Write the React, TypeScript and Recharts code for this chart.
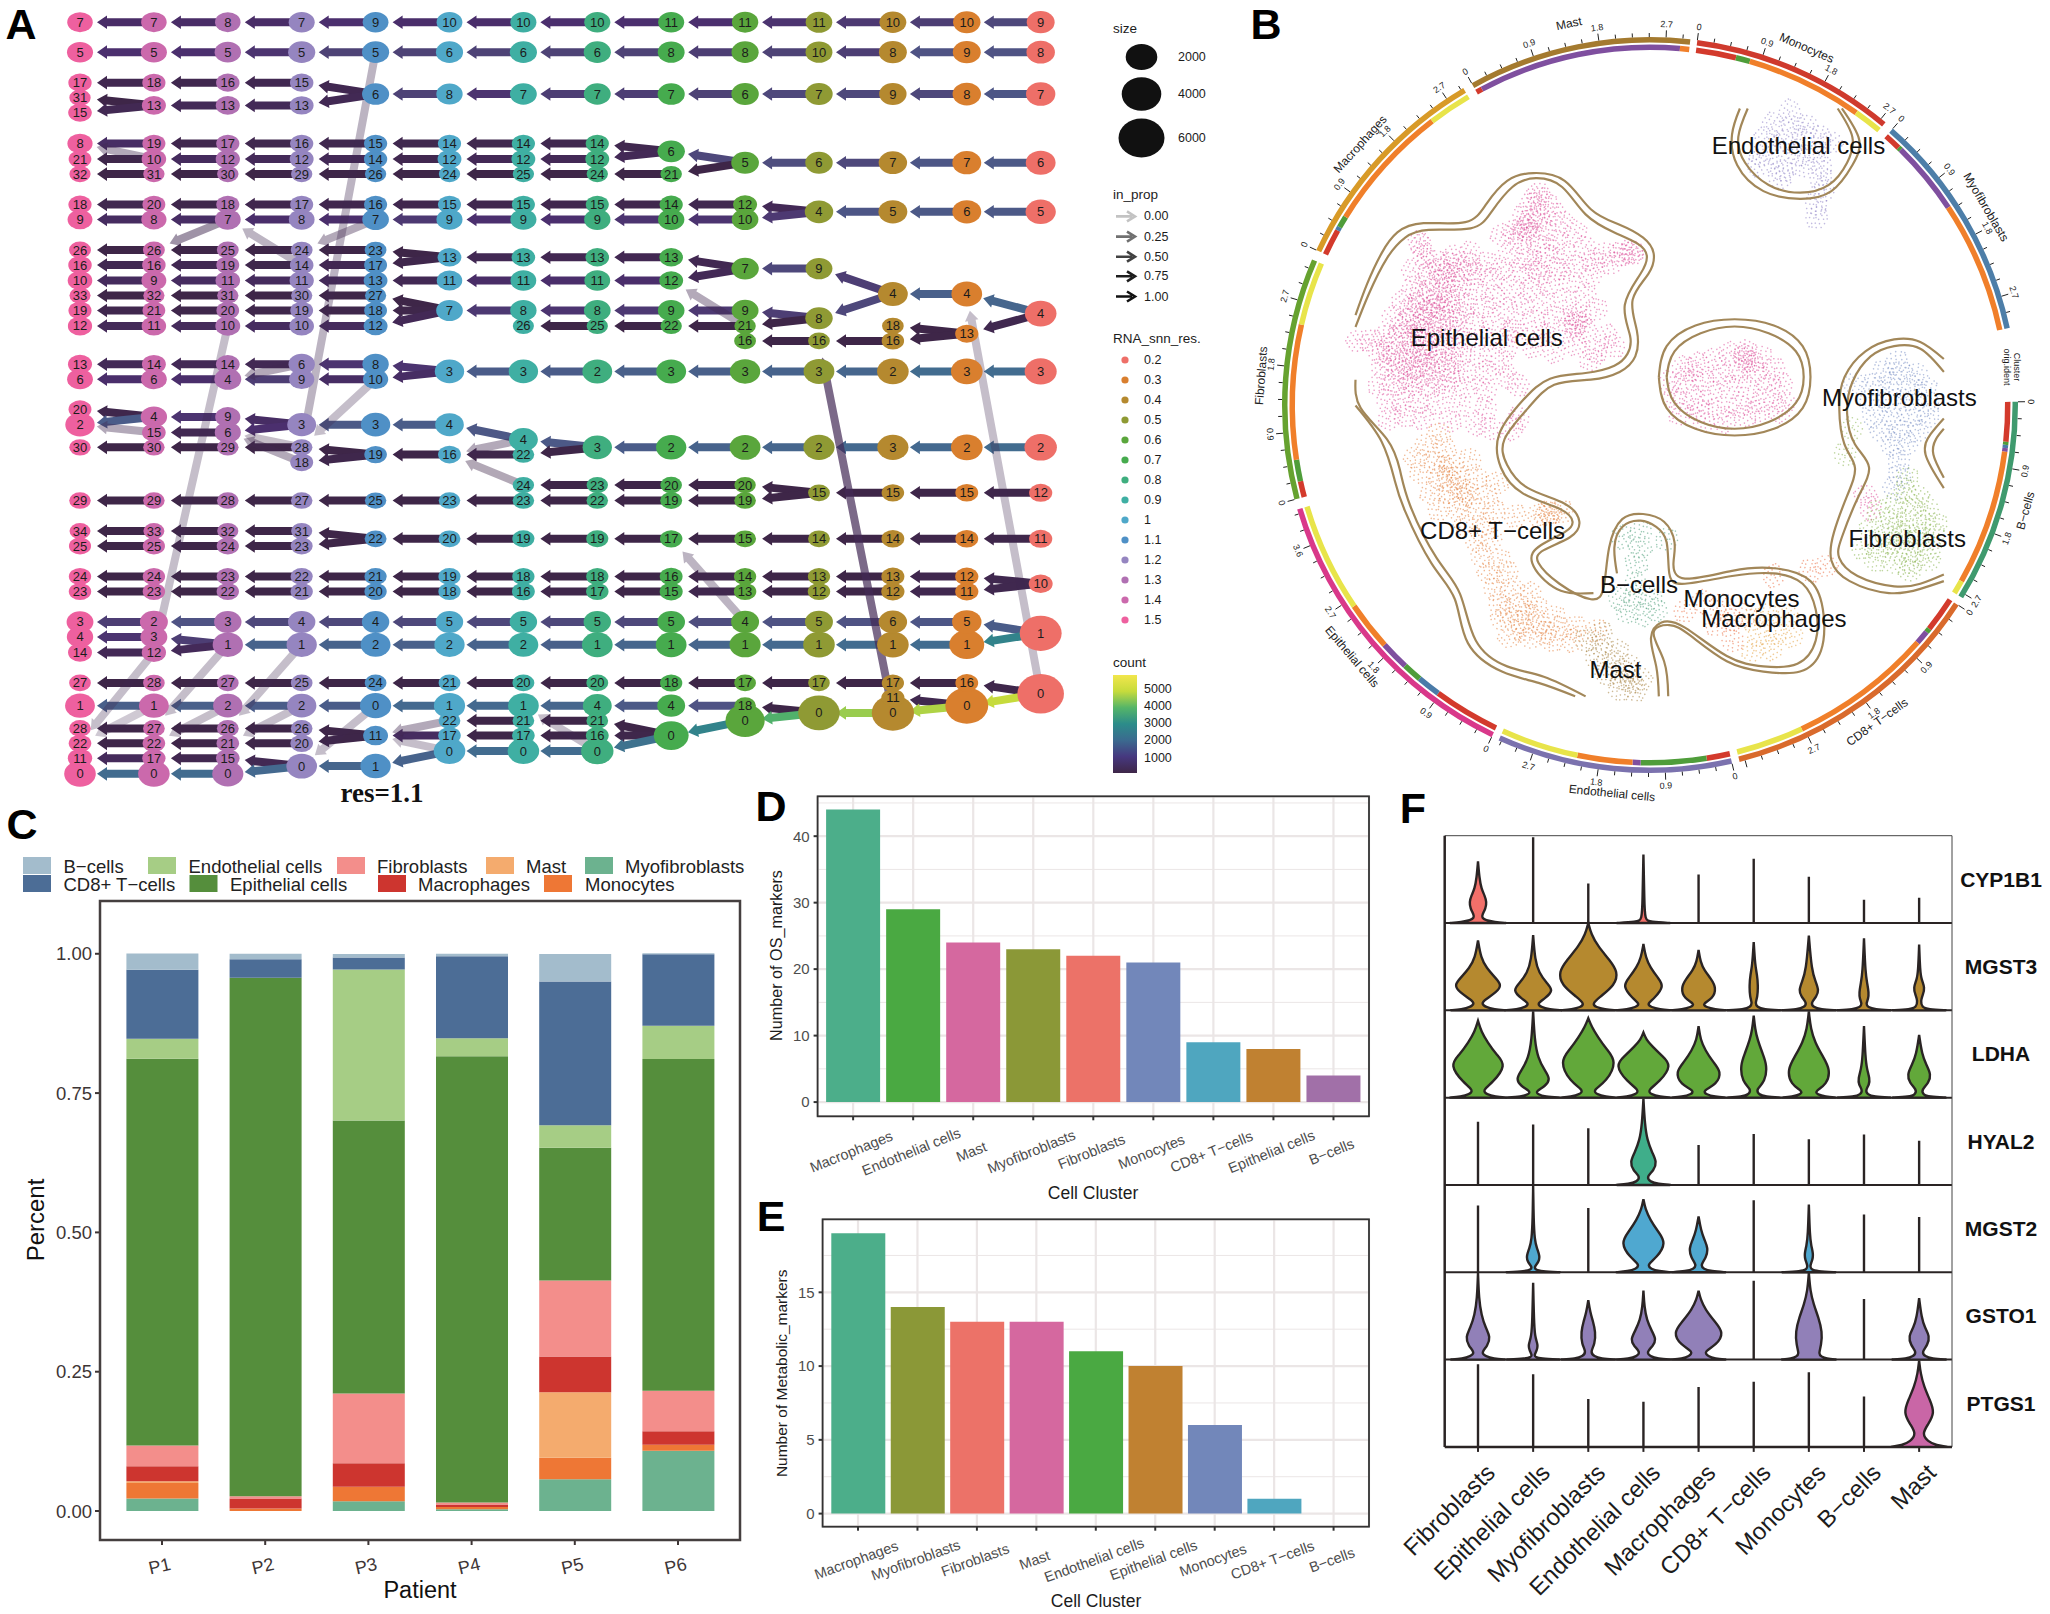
import {
  BarChart,
  Bar,
  Cell,
  CartesianGrid,
  Pie,
  PieChart,
  ReferenceLine,
  Scatter,
  ScatterChart,
  XAxis,
  YAxis,
} from "recharts";

const FONT = '"Liberation Sans", Arial, sans-serif';

// ---------- panel A: clustering tree ----------
const resLabels = ["1.5", "1.4", "1.3", "1.2", "1.1", "1", "0.9", "0.8", "0.7", "0.6", "0.5", "0.4", "0.3", "0.2"];
const resColors = ["#ee609f", "#cb69ac", "#b070b2", "#9585c0", "#4f90c6", "#4fa8c9", "#3fafa3", "#3fae7f", "#46ab4e", "#5aa63c", "#8f9a34", "#b5892f", "#d97f2e", "#ee6f68"];

// [cluster, lane, parent cluster in the next column]
const col0 = [[7,43,7],[5,101,5],[17,160,18],[31,189,13],[15,218,13],[8,278,19],[21,308,10],[32,337,31],[18,396,20],[9,425,8],[26,484,26],[16,513,16],[10,543,9],[33,572,32],[19,601,21],[12,631,11],[13,705,14],[6,734,6],[20,792,4],[2,822,4],[30,866,30],[29,969,29],[34,1028,33],[25,1057,25],[24,1116,24],[23,1145,23],[3,1204,2],[4,1233,3],[14,1263,12],[27,1322,28],[1,1366,1],[28,1410,27],[22,1439,22],[11,1468,17],[0,1498,0]];
const col1 = [[7,43,8],[5,101,5],[18,160,16],[13,204,13],[19,278,17],[10,308,12],[31,337,30],[20,396,18],[8,425,7],[26,484,25],[16,513,19],[9,543,11],[32,572,31],[21,601,20],[11,631,10],[14,705,14],[6,734,4],[4,807,9],[15,837,6],[30,866,29],[29,969,28],[33,1028,32],[25,1057,24],[24,1116,23],[23,1145,22],[2,1204,3],[3,1233,1],[12,1263,1],[28,1322,27],[1,1366,2],[27,1410,26],[22,1439,21],[17,1468,15],[0,1498,0]];
const col2 = [[8,43,7],[5,101,5],[16,160,15],[13,204,13],[17,278,16],[12,308,12],[30,337,29],[18,396,17],[7,425,8],[25,484,24],[19,513,14],[11,543,11],[31,572,30],[20,601,19],[10,631,10],[14,705,6],[4,734,9],[9,807,3],[6,837,3],[29,866,28],[28,969,27],[32,1028,31],[24,1057,23],[23,1116,22],[22,1145,21],[3,1204,4],[1,1248,1],[27,1322,25],[2,1366,2],[26,1410,26],[21,1439,20],[15,1468,0],[0,1498,0]];
const col3 = [[7,43,9],[5,101,5],[15,160,6],[13,204,6],[16,278,15],[12,308,14],[29,337,26],[17,396,16],[8,425,7],[24,484,23],[14,513,17],[11,543,13],[30,572,27],[19,601,18],[10,631,12],[6,705,8],[9,734,10],[3,822,3],[28,866,19],[18,895,19],[27,969,25],[31,1028,22],[23,1057,22],[22,1116,21],[21,1145,20],[4,1204,4],[1,1248,2],[25,1322,24],[2,1366,0],[26,1410,11],[20,1439,11],[0,1483,1]];
const col4 = [[9,43,10],[5,101,6],[6,182,8],[15,278,14],[14,308,12],[26,337,24],[16,396,15],[7,425,9],[23,484,13],[17,513,13],[13,543,11],[27,572,7],[18,601,7],[12,631,7],[8,705,3],[10,734,3],[3,822,4],[19,880,16],[25,969,23],[22,1043,20],[21,1116,19],[20,1145,18],[4,1204,5],[2,1248,2],[24,1322,21],[0,1366,1],[11,1424,17],[1,1483,0]];
const col5 = [[10,43,10],[6,101,6],[8,182,7],[14,278,14],[12,308,12],[24,337,25],[15,396,15],[9,425,9],[13,498,13],[11,543,11],[7,601,8],[3,719,3],[4,822,4],[16,880,22],[23,969,23],[20,1043,19],[19,1116,18],[18,1145,16],[5,1204,5],[2,1248,2],[21,1322,20],[1,1366,1],[22,1395,21],[17,1424,17],[0,1454,0]];
const col6 = [[10,43,10],[6,101,6],[7,182,7],[14,278,14],[12,308,12],[25,337,24],[15,396,15],[9,425,9],[13,498,13],[11,543,11],[8,601,8],[26,631,25],[3,719,2],[4,851,3],[22,880,3],[24,939,23],[23,969,22],[19,1043,19],[18,1116,18],[16,1145,17],[5,1204,5],[2,1248,1],[20,1322,20],[1,1366,4],[21,1395,21],[17,1424,16],[0,1454,0]];
const col7 = [[10,43,11],[6,101,8],[7,182,7],[14,278,6],[12,308,6],[24,337,21],[15,396,14],[9,425,10],[13,498,13],[11,543,12],[8,601,9],[25,631,22],[2,719,3],[3,866,2],[23,939,20],[22,969,19],[19,1043,17],[18,1116,16],[17,1145,15],[5,1204,5],[1,1248,1],[20,1322,18],[4,1366,4],[21,1395,0],[16,1424,0],[0,1454,0]];
const col8 = [[11,43,11],[8,101,8],[7,182,6],[6,293,5],[21,337,5],[14,396,12],[10,425,10],[13,498,7],[12,543,7],[9,601,9],[22,631,21],[3,719,3],[2,866,2],[20,939,20],[19,969,19],[17,1043,15],[16,1116,14],[15,1145,13],[5,1204,4],[1,1248,1],[18,1322,17],[4,1366,18],[0,1424,0]];
const col9 = [[11,43,11],[8,101,10],[6,182,7],[5,315,6],[12,396,4],[10,425,4],[7,520,9],[9,601,8],[21,631,8],[16,660,16],[3,719,3],[2,866,2],[20,939,15],[19,969,15],[15,1043,14],[14,1116,13],[13,1145,12],[4,1204,5],[1,1248,1],[17,1322,17],[18,1366,0],[0,1395,0]];
const col10 = [[11,43,10],[10,101,8],[7,182,9],[6,315,7],[4,410,5],[9,520,4],[8,616,4],[16,660,16],[3,719,2],[2,866,3],[15,954,15],[14,1043,14],[13,1116,13],[12,1145,12],[5,1204,6],[1,1248,1],[17,1322,17],[0,1380,0]];
const col11 = [[10,43,10],[8,101,9],[9,182,8],[7,315,7],[5,410,6],[4,569,4],[18,631,13],[16,660,13],[2,719,3],[3,866,2],[15,954,15],[14,1043,14],[13,1116,12],[12,1145,11],[6,1204,5],[1,1248,1],[17,1322,16],[11,1351,0],[0,1380,0]];
const col12 = [[10,43,9],[9,101,8],[8,182,7],[7,315,6],[6,410,5],[4,569,4],[13,646,4],[3,719,3],[2,866,2],[15,954,12],[14,1043,11],[12,1116,10],[11,1145,10],[5,1204,1],[1,1248,1],[16,1322,0],[0,1366,0]];
const col13 = [[9,43,-1],[8,101,-1],[7,182,-1],[6,315,-1],[5,410,-1],[4,607,-1],[3,719,-1],[2,866,-1],[12,954,-1],[11,1043,-1],[10,1130,-1],[1,1226,-1],[0,1343,-1]];
const treeColumns = [col0, col1, col2, col3, col4, col5, col6, col7, col8, col9, col10, col11, col12, col13];

// cell counts, index = cluster number
const counts0 = [1900,1500,1400,900,800,750,700,650,600,550,500,480,450,420,400,360,340,320,300,280,260,240,220,200,190,170,150,130,120,110,100,90,80,70,60];
const counts1 = [1900,1500,1100,900,800,750,700,650,600,550,500,480,450,420,400,360,340,320,300,280,260,240,220,200,190,170,150,130,120,110,100,90,80,60];
const counts2 = [1800,1600,1400,1000,900,800,750,700,650,600,550,500,450,420,380,360,330,300,280,260,240,220,190,180,170,150,140,130,120,110,100,90,70];
const counts3 = [1700,1600,1400,1300,1000,950,800,750,700,600,500,450,400,380,350,330,300,280,260,240,220,180,170,160,140,130,120,110,100,90,80,70];
const counts4 = [1800,1600,1500,1400,1000,950,950,850,800,700,600,550,400,380,320,300,280,260,250,220,180,170,150,140,130,100,90,80];
const counts5 = [1900,1800,1600,1400,1250,1000,950,850,800,750,700,650,400,380,300,280,250,220,180,170,150,140,130,110,90];
const counts6 = [1900,1700,1500,1400,1300,1000,950,900,800,750,750,700,400,350,300,280,250,220,180,170,150,130,120,110,100,90,70];
const counts7 = [2100,1700,1500,1400,1300,1000,950,900,850,800,750,700,400,350,300,280,250,200,180,170,150,130,110,100,90,80];
const counts8 = [2700,1700,1600,1500,1100,1050,1000,950,900,850,800,750,400,350,300,280,250,200,180,150,120,100,90];
const counts9 = [3900,1800,1700,1600,1100,1050,1000,1000,950,900,850,800,400,200,180,150,140,130,120,120,100,100];
const counts10 = [4600,1900,1800,1700,1200,1100,1000,1000,1000,900,900,850,200,180,150,140,130,120];
const counts11 = [4800,1900,1900,1800,1500,1300,1200,1200,1100,1000,900,300,300,280,250,220,200,180,120];
const counts12 = [5000,2700,1900,1900,1700,1400,1300,1300,1200,1100,1000,300,300,300,250,250,250];
const counts13 = [6200,4700,2100,2000,1900,1600,1500,1400,1200,1100,400,300,300];
const treeCounts = [counts0, counts1, counts2, counts3, counts4, counts5, counts6, counts7, counts8, counts9, counts10, counts11, counts12, counts13];

// faint edges: [child column, child cluster, parent cluster, count, in_prop]
const crossEdges = [
  [12,4,0,300,0.3],[10,16,0,400,0.7],[8,17,4,300,0.35],[8,12,21,300,0.4],[6,1,0,300,0.3],
  [4,11,22,300,0.4],[4,11,0,300,0.3],[3,0,0,300,0.3],[3,28,5,300,0.35],[3,24,7,300,0.4],[3,28,10,300,0.3],
  [2,7,14,300,0.35],[1,26,7,300,0.5],[1,12,10,300,0.3],[2,4,6,300,0.4],[2,6,18,300,0.4],[2,6,28,200,0.3],
  [5,16,4,300,0.4],[5,16,24,200,0.4],[0,2,15,300,0.4],[0,8,10,300,0.4],[0,22,1,300,0.25],[0,22,12,300,0.3],
  [2,26,1,300,0.3],[2,21,2,300,0.3],[1,27,1,300,0.3],[1,22,2,250,0.3],
];

const countStops = [[200,"#3e2648"],[750,"#4b2f6e"],[950,"#4e4376"],[1100,"#4f5384"],[1800,"#44698f"],[3000,"#2c8c8a"],[4000,"#55b568"],[5000,"#c6db3c"],[5600,"#f2e64c"]] as [number,string][];
const hex = (s: string) => [1,3,5].map((i) => parseInt(s.slice(i,i+2),16));
const countColor = (c: number) => {
  for (let i = 1; i < countStops.length; i++) {
    if (c <= countStops[i][0]) {
      const t = Math.max(0,(c-countStops[i-1][0])/(countStops[i][0]-countStops[i-1][0]));
      const a = hex(countStops[i-1][1]), b = hex(countStops[i][1]);
      return `rgb(${a.map((v,k)=>Math.round(v+(b[k]-v)*t)).join(",")})`;
    }
  }
  return countStops[countStops.length-1][1];
};

const nodeRx = (c: number) => 10 + 13*Math.pow(c/6000,0.7);
const nodeRy = (c: number) => 7.5 + 12*Math.pow(c/6000,0.7);

// big nodes first so the small labels stay readable on top of them
const treeNodes = treeColumns.map((col,c) =>
  col.map(([id,lane]) => ({ x:c, y:lane, id, count: treeCounts[c][id] })).sort((a,b) => b.count-a.count)
);
const findNode = (c: number, id: number) => treeNodes[c].find((n) => n.id === id);
const treeEdges: any[] = [];
treeColumns.forEach((col,c) => {
  if (c === 13) return;
  col.forEach(([id,lane,parent]) => {
    const p = findNode(c+1,parent);
    if (p) treeEdges.push({ from:p, to:{x:c,y:lane}, count:treeCounts[c][id], prop:1 });
  });
});
crossEdges.forEach(([c,id,parent,count,prop]) => {
  const p = findNode(c+1,parent), n = findNode(c,id);
  if (p && n) treeEdges.push({ from:p, to:n, count, prop });
});

const EdgeArrow = (p: any) => {
  const { x1, y1, x2, y2, stroke, strokeOpacity } = p;
  const dx = x2-x1, dy = y2-y1, len = Math.hypot(dx,dy) || 1;
  const ux = dx/len, uy = dy/len, nx = -uy, ny = ux;
  const sx = x1+ux*6, sy = y1+uy*6, tx = x2-ux*17, ty = y2-uy*17;
  const bx = tx-ux*10, by = ty-uy*10;
  const pts = [
    [sx+nx*4,sy+ny*4],[bx+nx*4,by+ny*4],[bx+nx*6.8,by+ny*6.8],[tx,ty],
    [bx-nx*6.8,by-ny*6.8],[bx-nx*4,by-ny*4],[sx-nx*4,sy-ny*4],
  ];
  return <polygon points={pts.map((q)=>q.join(",")).join(" ")} fill={stroke} fillOpacity={strokeOpacity} />;
};

const TreeNode = (p: any) => {
  const { cx, cy, fill, payload } = p;
  return (
    <g>
      <ellipse cx={cx} cy={cy} rx={nodeRx(payload.count)} ry={nodeRy(payload.count)} fill={fill} />
      <text x={cx} y={cy+4.5} textAnchor="middle" fontSize={13} fill="#1c1c1c" fontFamily={FONT}>{payload.id}</text>
    </g>
  );
};

const ClusterTree = () => (
  <ScatterChart width={1110} height={810} margin={{top:0,right:0,bottom:0,left:0}}>
    <XAxis type="number" dataKey="x" domain={[-1.0825,13.938]} hide />
    <YAxis type="number" dataKey="y" domain={[0,1568]} reversed hide />
    {treeEdges.map((e,i) => (
      <ReferenceLine
        key={i}
        ifOverflow="visible"
        segment={[{x:e.from.x,y:e.from.y},{x:e.to.x,y:e.to.y}]}
        stroke={countColor(e.count)}
        strokeOpacity={e.prop}
        shape={EdgeArrow}
      />
    ))}
    {treeNodes.map((nodes,c) => (
      <Scatter key={c} data={nodes} fill={resColors[c]} shape={TreeNode} isAnimationActive={false} />
    ))}
  </ScatterChart>
);

// ---------- panel B: circular tracks and embedding ----------
const trackNames = ["Monocytes","Myofibroblasts","B−cells","CD8+ T−cells","Endothelial cells","Epithelial cells","Fibroblasts","Macrophages","Mast"];
const trackColors = ["#cf3a2d","#4d7ea8","#3f9a6e","#d96a2c","#7b72ae","#d9388a","#66a22f","#d89a27","#a47a2f"];
const trackStarts = [7.4,41.3,89.5,123,167.1,205.5,255.1,294.9,331];
const trackSpans = [32.4,36.6,32.2,42.9,37.2,48,38.2,34.6,35.3];
const trackGaps = [1.5,11.6,1.3,1.2,1.2,1.6,1.6,1.5,1.1];
const trackLabelAngles = [23.7,59.5,105.7,144.4,185.6,229.8,274.3,312,348];
const trackMaxTick = [2.7,2.7,2.7,2.7,2.7,3.6,2.7,2.7,2.7];
const DEG_PER_UNIT = 11.67;

const originColors: Record<string,string> = { r:"#d33a2c", g:"#4f9d3a", b:"#4a7ba8", p:"#7f4f9f", o:"#f07f2a", y:"#e8e44a" };
const originMono = [["r",6.5],["g",2.3],["o",19],["y",4.6]];
const originMyo = [["r",2.7],["g",0.5],["p",12],["o",21.4]];
const originB = [["r",6.4],["g",0.5],["b",0.5],["p",0.6],["o",22],["y",2.2]];
const originCd8 = [["r",5.7],["g",0.7],["p",2.2],["o",23.3],["y",11]];
const originEndo = [["r",3.8],["g",10.6],["p",1.3],["o",8.9],["y",12.6]];
const originEpi = [["r",10.8],["b",3.8],["g",3.1],["p",4.7],["o",7.9],["y",17.7]];
const originFibro = [["r",2.6],["g",3.5],["o",21.8],["y",10.3]];
const originMacro = [["r",4.3],["b",0.6],["g",1.9],["o",20.8],["y",7]];
const originMast = [["r",1],["p",32.8],["o",1.5]];
const originTracks = [originMono,originMyo,originB,originCd8,originEndo,originEpi,originFibro,originMacro,originMast];

const outerRing: any[] = [];
const innerRing: any[] = [];
trackNames.forEach((name,i) => {
  outerRing.push({ name, value:trackSpans[i], fill:trackColors[i] });
  outerRing.push({ name:"gap", value:trackGaps[i], fill:"none" });
  (originTracks[i] as [string,number][]).forEach(([k,v]) => innerRing.push({ name:k, value:v, fill:originColors[k] }));
  innerRing.push({ name:"gap", value:trackGaps[i], fill:"none" });
});

const CircularTracks = () => (
  <PieChart width={820} height={810} margin={{top:0,right:0,bottom:0,left:0}}>
    <Pie data={outerRing} dataKey="value" cx={420} cy={405} innerRadius={362.5} outerRadius={368} startAngle={82.6} endAngle={-277.4} stroke="none" isAnimationActive={false}>
      {outerRing.map((d,i) => <Cell key={i} fill={d.fill} />)}
    </Pie>
    <Pie data={innerRing} dataKey="value" cx={420} cy={405} innerRadius={355} outerRadius={360.5} startAngle={82.6} endAngle={-277.4} stroke="none" isAnimationActive={false}>
      {innerRing.map((d,i) => <Cell key={i} fill={d.fill} />)}
    </Pie>
  </PieChart>
);

const epithelialPts = [[590,375],[575,395],[605,395],[560,420],[590,420],[620,415],[545,445],[575,450],[565,445],[605,445],[635,430],[520,455],[555,470],[590,475],[625,465],[660,450],[535,490],[570,500],[605,495],[640,490],[680,480],[715,490],[745,492],[770,490],[765,485],[520,520],[555,525],[590,530],[625,520],[660,515],[695,505],[730,510],[540,555],[575,560],[610,550],[650,545],[690,535],[560,590],[600,585],[640,580],[680,570],[580,620],[620,615],[660,610],[700,600],[600,650],[640,640],[680,640],[720,650],[735,670],[700,680],[660,625],[660,665],[620,680],[580,670],[690,695],[545,640],[362,470],[370,495],[395,505],[430,495],[460,490],[490,510],[350,525],[380,530],[410,530],[440,525],[420,510],[470,530],[500,540],[350,555],[380,560],[410,560],[440,555],[470,560],[505,575],[330,585],[360,590],[390,590],[420,585],[400,575],[450,590],[485,595],[530,600],[310,615],[340,620],[370,620],[400,618],[430,620],[385,605],[465,625],[505,625],[540,640],[245,660],[270,660],[295,650],[325,650],[355,650],[385,650],[415,650],[370,640],[450,655],[490,655],[530,670],[285,680],[315,685],[345,682],[375,682],[405,682],[360,690],[440,685],[480,690],[520,700],[290,710],[320,715],[350,712],[380,712],[410,715],[450,720],[490,720],[530,730],[550,745],[285,745],[315,745],[345,745],[375,745],[410,750],[450,750],[490,755],[300,775],[330,775],[360,778],[395,780],[440,785],[490,790],[305,810],[335,805],[370,810],[420,815],[470,820],[500,830],[552,810],[540,830],[865,712],[895,705],[925,695],[955,685],[985,680],[1015,690],[1040,715],[1055,745],[840,740],[870,740],[905,735],[940,725],[975,715],[985,695],[1005,720],[1030,745],[1060,780],[850,770],[885,770],[920,760],[955,750],[990,750],[1020,775],[860,800],[895,795],[935,790],[975,785],[1010,795],[1050,795],[905,815],[945,815],[985,805],[1215,960],[1225,985]];
// second layer where the pink cloud is densest
const epithelialDense = [[365,475],[565,440],[575,425],[590,385],[768,488],[400,520],[430,540],[455,510],[395,545],[425,570],[365,575],[345,600],[375,600],[405,600],[440,605],[330,630],[360,635],[390,635],[420,635],[310,665],[340,665],[370,665],[400,665],[430,670],[305,695],[335,700],[365,700],[395,700],[425,700],[330,730],[360,730],[390,730],[420,735],[660,630],[670,615],[585,520],[1000,700],[985,690],[880,715]];
const cd8Pts = [[400,840],[375,860],[410,870],[355,885],[390,895],[425,900],[460,890],[365,915],[400,925],[435,925],[470,925],[510,935],[385,955],[420,955],[455,955],[440,945],[490,960],[400,985],[435,985],[470,985],[505,990],[545,998],[590,998],[615,995],[610,992],[635,990],[450,1015],[485,1015],[470,1045],[500,1045],[480,1075],[515,1085],[495,1110],[530,1110],[505,1140],[540,1140],[575,1150],[515,1170],[550,1170],[585,1175],[620,1195],[520,1200],[555,1205],[590,1205],[630,1215],[535,1232],[575,1235],[615,1240],[655,1240],[660,1215],[700,1220],[420,930],[445,965],[410,905],[530,1185],[570,1190],[560,1220],[605,1225],[605,998]];
const mastPts = [[680,1240],[710,1250],[740,1260],[700,1275],[735,1285],[765,1290],[720,1305],[750,1315],[785,1315],[745,1335],[775,1335],[710,1225],[750,1300],[770,1320]];
const endothelialPts = [[1070,215],[1040,240],[1075,245],[1105,245],[1025,265],[1060,272],[1095,270],[1130,265],[1015,300],[1050,300],[1085,300],[1120,295],[1150,275],[1010,320],[1055,330],[1095,320],[1130,320],[1050,345],[1130,345],[1135,370],[1120,395],[1122,420]];
const myoPts = [[1275,700],[1250,720],[1285,720],[1315,725],[1230,745],[1265,745],[1300,745],[1330,750],[1225,775],[1260,775],[1295,775],[1335,780],[1230,805],[1265,805],[1300,805],[1335,805],[1245,835],[1280,835],[1315,835],[1265,860],[1295,860],[1280,890],[1280,920],[1270,945],[1195,742]];
const fibroPts = [[1295,925],[1290,950],[1315,960],[1275,975],[1305,985],[1335,985],[1240,990],[1265,1005],[1295,1010],[1325,1010],[1350,1015],[1225,1025],[1255,1035],[1285,1035],[1315,1035],[1345,1035],[1210,1060],[1240,1060],[1275,1065],[1305,1065],[1340,1060],[1235,1085],[1270,1090],[1305,1090],[1335,1085],[1300,1105],[1190,830],[1175,880],[1280,1020],[1310,1050],[1265,1050]];
const bcellPts = [[750,1040],[785,1030],[785,1060],[835,1045],[778,1090],[775,1130],[745,1160],[775,1155],[805,1160],[760,1185],[790,1190],[815,1180]];
const monoPts = [[870,1182],[905,1165],[940,1170],[930,1210],[960,1200],[960,1240],[985,1190],[1040,1115],[1110,1105],[1140,1095]];
const macroPts = [[1000,1200],[1030,1190],[1065,1190],[1010,1230],[1045,1225],[1075,1230],[1035,1255],[1000,1260]];
const embedClusters = [
  { id:"epi", pts:[...epithelialPts,...epithelialDense], color:"#dd4f99" },
  { id:"cd8", pts:cd8Pts, color:"#e4813f" },
  { id:"mast", pts:mastPts, color:"#a5813f" },
  { id:"endo", pts:endothelialPts, color:"#8f83c6" },
  { id:"myo", pts:myoPts, color:"#7a90c4" },
  { id:"fib", pts:fibroPts, color:"#86b34c" },
  { id:"bc", pts:bcellPts, color:"#4f9f7a" },
  { id:"mono", pts:monoPts, color:"#ea6f45" },
  { id:"mac", pts:macroPts, color:"#e4a244" },
];

const hullOuter = [[240,610],[262,550],[290,490],[320,450],[370,432],[450,430],[490,395],[530,350],[580,335],[640,350],[690,405],[745,435],[790,460],[810,490],[800,530],[770,580],[778,640],[775,690],[745,720],[690,735],[620,745],[570,790],[525,850],[530,900],[570,945],[640,975],[668,1010],[650,1040],[600,1065],[590,1090],[630,1130],[690,1160],[715,1135],[725,1060],[750,1005],[790,995],[830,1010],[850,1050],[848,1090],[870,1120],[960,1105],[1040,1100],[1110,1125],[1135,1190],[1130,1260],[1090,1300],[1020,1300],[950,1280],[880,1230],[840,1210],[810,1225],[830,1280],[838,1348]];
const hullInner = [[240,633],[265,570],[300,500],[335,460],[380,445],[460,442],[500,410],[540,362],[585,345],[635,362],[680,415],[735,450],[780,472],[797,495],[785,530],[755,590],[765,650],[760,685],[735,708],[680,722],[612,733],[560,775],[515,840],[518,905],[560,955],[630,985],[655,1010],[640,1030],[595,1055],[578,1090],[625,1140],[695,1148]];
const hullNotch = [[820,1348],[815,1290],[805,1235],[825,1205],[870,1215],[950,1270],[1020,1290],[1085,1285],[1120,1240],[1120,1180],[1095,1130],[1040,1110],[960,1115],[870,1130],[840,1110],[835,1050],[815,1020],[785,1008],[750,1020],[735,1060],[740,1110]];
const hullLower1 = [[240,735],[250,790],[300,850],[325,910],[345,980],[395,1080],[440,1150],[470,1240],[530,1290],[600,1310],[680,1348]];
const hullLower2 = [[240,785],[290,855],[315,930],[335,990],[385,1090],[430,1160],[455,1245],[520,1300],[590,1322],[660,1348]];
const hullEndo1 = [[975,210],[960,260],[970,320],[1020,370],[1090,385],[1150,370],[1190,320],[1203,270],[1170,210]];
const hullEndo2 = [[990,210],[972,265],[985,315],[1030,358],[1090,373],[1145,358],[1180,315],[1190,265],[1162,210]];
const hullIsland1 = [[820,730],[835,670],[890,630],[965,618],[1040,630],[1095,670],[1110,730],[1095,790],[1040,830],[965,843],[890,830],[835,790],[820,730]];
const hullIsland2 = [[835,730],[850,680],[900,645],[965,632],[1030,645],[1082,680],[1097,730],[1082,780],[1030,817],[965,830],[900,817],[850,780],[835,730]];
const hullMyo1 = [[1365,695],[1320,662],[1270,657],[1215,680],[1175,730],[1165,790],[1175,860],[1195,905],[1180,960],[1155,1030],[1150,1085],[1185,1125],[1260,1148],[1320,1140],[1365,1125]];
const hullMyo2 = [[1365,720],[1320,675],[1270,670],[1225,690],[1190,740],[1180,800],[1195,860],[1222,905],[1200,965],[1170,1040],[1165,1080],[1200,1115],[1270,1135],[1320,1130],[1365,1112]];
const hullRight1 = [[1365,810],[1340,840],[1330,880],[1365,945]];
const hullRight2 = [[1365,830],[1350,850],[1345,880],[1365,925]];
const hulls = [hullOuter,hullInner,hullNotch,hullLower1,hullLower2,hullEndo1,hullEndo2,hullIsland1,hullIsland2,hullMyo1,hullMyo2,hullRight1,hullRight2];

const embedLabels = [
  ["Endothelial cells",1087,282],["Epithelial cells",491,653],["Myofibroblasts",1280,769],["Fibroblasts",1295,1043],
  ["CD8+ T−cells",502,1026],["B−cells",782,1132],["Monocytes",978,1158],["Macrophages",1040,1198],["Mast",737,1296],
] as [string,number,number][];

const toXY = (pts: number[][]) => pts.map(([x,y]) => ({x,y}));
const NoDot = () => <g />;

// symbol for one estimated patch of the cloud: a loose spray of tiny dots
const sprayOffsets = [[-9,-6],[-5,-9],[1,-10],[6,-8],[10,-4],[-11,-1],[-6,-4],[-2,-6],[3,-5],[7,-2],[11,1],[-8,2],[-3,-1],[1,-2],[5,2],[9,5],[-10,5],[-5,4],[0,3],[4,6],[-7,8],[-2,7],[2,10],[7,8],[-3,11],[-1,0],[12,-1],[-12,3]];
const SPRAY_PATH = sprayOffsets.map(([x,y]) => `M${x-0.8} ${y}a.8 .8 0 1 0 1.6 0a.8 .8 0 1 0 -1.6 0`).join("");
const sprayDot = (color: string) => (p: any) => (
  <path d={SPRAY_PATH} fill={color} fillOpacity={0.55}
    transform={`translate(${p.cx} ${p.cy}) rotate(${(Math.round(p.cx)*37+Math.round(p.cy)*59)%360})`} />
);

const Embedding = () => (
  <ScatterChart width={820} height={810} margin={{top:0,right:0,bottom:0,left:0}}>
    <XAxis type="number" dataKey="x" domain={[0,1568]} hide />
    <YAxis type="number" dataKey="y" domain={[0,1568]} reversed hide />
    {embedClusters.map((c) => (
      <Scatter key={c.id} data={toXY(c.pts)} shape={sprayDot(c.color)} isAnimationActive={false} />
    ))}
    {hulls.map((h,i) => (
      <Scatter key={i} data={toXY(h)} shape={NoDot} line={{stroke:"#a28759",strokeWidth:2.2}} lineType="joint" lineJointType="natural" isAnimationActive={false} />
    ))}
  </ScatterChart>
);

// ---------- panel C: stacked composition ----------
const patients = ["P1","P2","P3","P4","P5","P6"];
const pctMyo = [0.0224,0,0.0177,0.003,0.0568,0.108];
const pctMono = [0.028,0.0045,0.026,0.004,0.039,0.011];
const pctMast = [0.003,0,0,0,0.1174,0];
const pctMacro = [0.027,0.018,0.042,0.0045,0.0643,0.024];
const pctFibro = [0.037,0.004,0.125,0.004,0.136,0.073];
const pctEpi = [0.694,0.9305,0.49,0.8005,0.2386,0.595];
const pctEndo = [0.036,0,0.271,0.0325,0.04,0.06];
const pctCd8 = [0.124,0.033,0.0215,0.147,0.258,0.128];
const pctB = [0.029,0.01,0.0065,0.0047,0.0494,0.002];
const stackKeys = ["myo","mono","mast","macro","fibro","epi","endo","cd8","b"];
const stackColors = ["#6cb28f","#ee7735","#f4ab6e","#cd352f","#f38e8b","#558e3c","#a6cd85","#4c6d96","#a3bccc"];
const stackRows = patients.map((p,i) => ({
  patient:p, myo:pctMyo[i], mono:pctMono[i], mast:pctMast[i], macro:pctMacro[i], fibro:pctFibro[i],
  epi:pctEpi[i], endo:pctEndo[i], cd8:pctCd8[i], b:pctB[i],
}));

const legendRow1 = [["B−cells","#a3bccc",23,63.5],["Endothelial cells","#a6cd85",148,188.5],["Fibroblasts","#f38e8b",337,377],["Mast","#f4ab6e",486,526],["Myofibroblasts","#6cb28f",585,625]] as [string,string,number,number][];
const legendRow2 = [["CD8+ T−cells","#4c6d96",23,63.5],["Epithelial cells","#558e3c",189.5,230],["Macrophages","#cd352f",378,418],["Monocytes","#ee7735",544,585]] as [string,string,number,number][];

const CompositionChart = () => (
  <BarChart width={760} height={814} data={stackRows} margin={{top:101,right:20,bottom:0,left:0}}>
    <XAxis dataKey="patient" height={74} padding={{left:10.4,right:10.4}} axisLine={false} tickSize={5} tickLine={{stroke:"#3d3535",strokeWidth:2}} interval={0}
      tick={(p: any) => <text x={p.x-1} y={p.y+25} transform={`rotate(-13 ${p.x-1} ${p.y+25})`} textAnchor="middle" fontSize={18} fill="#3d3535" fontFamily={FONT}>{p.payload.value}</text>} />
    <YAxis type="number" width={100} domain={[-0.052,1.0947]} ticks={[0,0.25,0.5,0.75,1]} allowDataOverflow axisLine={false} tickSize={5} tickMargin={3} tickLine={{stroke:"#3d3535",strokeWidth:2}} tickFormatter={(v: number) => v.toFixed(2)} tick={{fontSize:18.5,fill:"#3d3535",fontFamily:FONT}} />
    {stackKeys.map((k,i) => <Bar key={k} dataKey={k} stackId="a" fill={stackColors[i]} barSize={72} isAnimationActive={false} />)}
  </BarChart>
);

// ---------- panels D and E ----------
const osNames = ["Macrophages","Endothelial cells","Mast","Myofibroblasts","Fibroblasts","Monocytes","CD8+ T−cells","Epithelial cells","B−cells"];
const osValues = [44,29,24,23,22,21,9,8,4];
const metaNames = ["Macrophages","Myofibroblasts","Fibroblasts","Mast","Endothelial cells","Epithelial cells","Monocytes","CD8+ T−cells","B−cells"];
const metaValues = [19,14,13,13,11,10,6,1,0];
const cellColors: Record<string,string> = {
  Macrophages:"#4cae8a","Endothelial cells":"#4aa942",Mast:"#d5689f",Myofibroblasts:"#8b9837",Fibroblasts:"#ec7268",
  Monocytes:"#7287ba","CD8+ T−cells":"#4fa6bf","Epithelial cells":"#c08131","B−cells":"#a170a8",
};

const RankBars = ({ names, values, left, top, width, height, plotLeft, plotTop, plotRight, plotBottom, domain, ticks, minor, pad, barSize, labelDy, angle }: any) => {
  const rows = names.map((n: string,i: number) => ({ name:n, value:values[i] }));
  return (
    <BarChart style={{position:"absolute",left,top}} width={width} height={height} data={rows}
      margin={{top:plotTop-top,right:left+width-plotRight,bottom:0,left:0}}>
      <CartesianGrid stroke="#ebe6e6" strokeWidth={2.2} />
      <CartesianGrid stroke="#ebe6e6" strokeWidth={1} vertical={false} horizontalValues={minor} />
      <XAxis dataKey="name" height={top+height-plotBottom} padding={{left:pad,right:pad}} interval={0} axisLine={false} tickSize={4} tickLine={{stroke:"#333",strokeWidth:2}}
        tick={(p: any) => <text x={p.x} y={p.y+labelDy} transform={`rotate(${angle} ${p.x} ${p.y+labelDy})`} textAnchor="middle" fontSize={14.5} fill="#4d4d4d" fontFamily={FONT}>{p.payload.value}</text>} />
      <YAxis type="number" width={plotLeft-left} domain={domain} ticks={ticks} allowDataOverflow axisLine={false} tickSize={4} tickMargin={4} tickLine={{stroke:"#333",strokeWidth:2}} tick={{fontSize:15,fill:"#4d4d4d",fontFamily:FONT}} />
      <Bar dataKey="value" barSize={barSize} isAnimationActive={false}>
        {rows.map((r: any) => <Cell key={r.name} fill={cellColors[r.name]} />)}
      </Bar>
    </BarChart>
  );
};

// ---------- panel F: stacked violins ----------
const violinGenes = ["CYP1B1","MGST3","LDHA","HYAL2","MGST2","GSTO1","PTGS1"];
const violinColors = ["#f2706a","#b5892f","#62a83a","#3fae8a","#4fa8d0","#9180b8","#c966a6"];
const violinCells = ["Fibroblasts","Epithelial cells","Myofibroblasts","Endothelial cells","Macrophages","CD8+ T−cells","Monocytes","B−cells","Mast"];

// each profile: [height above row floor, half width]
const cyp1b1 = [
  [[0,60],[2,34],[5,16],[10,8],[16,9],[28,16],[40,18],[52,14],[65,7],[85,3],[117,0]],
  [[0,0],[163,0]],[[0,0],[75,0]],[[0,58],[2,14],[6,3],[40,2],[130,0]],[[0,0],[92,0]],[[0,0],[122,0]],[[0,0],[88,0]],[[0,0],[44,0]],[[0,0],[48,0]],
];
const mgst3 = [
  [[0,58],[2,34],[6,16],[13,7],[20,14],[34,38],[48,50],[62,36],[80,18],[100,6],[133,0]],
  [[0,60],[2,34],[6,16],[13,8],[22,24],[38,43],[52,28],[72,12],[95,4],[143,0]],
  [[0,58],[2,34],[6,16],[12,8],[24,22],[48,56],[73,62],[96,44],[122,20],[145,6],[166,0]],
  [[0,58],[2,34],[6,16],[12,7],[22,22],[46,44],[62,30],[82,14],[100,5],[126,0]],
  [[0,58],[2,34],[6,16],[12,7],[22,30],[43,37],[60,26],[76,12],[92,4],[115,0]],
  [[0,58],[2,20],[6,7],[14,3],[25,8],[48,9],[68,7],[85,3],[130,0]],
  [[0,58],[2,24],[6,9],[14,4],[26,16],[38,21],[55,14],[75,6],[142,0]],
  [[0,58],[2,22],[6,8],[12,4],[22,9],[33,10],[50,7],[70,3],[137,0]],
  [[0,58],[2,18],[6,6],[18,3],[30,8],[43,12],[58,5],[75,2],[125,0]],
];
const ldha = [
  [[0,60],[2,36],[6,18],[14,9],[28,30],[62,60],[82,38],[105,20],[125,7],[146,0]],
  [[0,58],[2,24],[6,10],[12,5],[22,26],[36,36],[52,24],[75,10],[110,3],[164,0]],
  [[0,58],[2,36],[6,18],[14,9],[30,38],[69,60],[92,38],[115,20],[135,7],[151,0]],
  [[0,58],[2,34],[6,16],[14,8],[30,34],[62,60],[80,38],[98,18],[110,6],[124,0]],
  [[0,58],[2,34],[6,16],[13,8],[25,38],[49,48],[68,30],[90,14],[110,4],[136,0]],
  [[0,58],[2,24],[6,10],[16,5],[30,24],[62,28],[85,18],[110,8],[130,3],[156,0]],
  [[0,58],[2,34],[6,18],[12,12],[25,38],[54,45],[80,28],[105,13],[130,4],[164,0]],
  [[0,58],[2,20],[6,7],[14,3],[25,11],[36,12],[55,6],[75,3],[136,0]],
  [[0,58],[2,20],[6,8],[15,5],[28,20],[44,25],[62,15],[82,6],[119,0]],
];
const hyal2 = [
  [[0,0],[120,0]],[[0,0],[115,0]],[[0,0],[108,0]],
  [[0,58],[2,30],[6,14],[15,6],[28,22],[44,28],[62,18],[85,8],[115,3],[164,0]],
  [[0,0],[76,0]],[[0,0],[97,0]],[[0,0],[87,0]],[[0,0],[96,0]],[[0,0],[84,0]],
];
const mgst2 = [
  [[0,0],[127,0]],
  [[0,58],[2,16],[5,5],[10,2],[20,12],[31,14],[45,8],[62,3],[100,1],[164,0]],
  [[0,0],[122,0]],
  [[0,58],[2,32],[6,16],[14,7],[28,28],[56,48],[78,30],[100,14],[120,4],[139,0]],
  [[0,58],[2,26],[6,10],[14,4],[28,16],[46,20],[62,12],[80,5],[106,0]],
  [[0,0],[137,0]],
  [[0,58],[2,16],[5,5],[12,2],[24,8],[36,9],[50,5],[70,2],[129,0]],
  [[0,0],[110,0]],[[0,0],[105,0]],
];
const gsto1 = [
  [[0,58],[2,32],[6,16],[13,6],[26,20],[43,26],[60,16],[85,7],[115,2],[165,0]],
  [[0,58],[2,14],[5,5],[8,2],[18,8],[28,10],[40,5],[60,2],[146,0]],
  [[0,58],[2,26],[6,12],[14,4],[30,14],[53,15],[72,10],[90,4],[113,0]],
  [[0,58],[2,30],[6,14],[14,6],[26,20],[38,27],[55,17],[75,7],[100,2],[131,0]],
  [[0,58],[2,34],[6,20],[15,10],[28,38],[51,53],[72,34],[95,14],[115,4],[131,0]],
  [[0,0],[150,0]],
  [[0,58],[2,36],[6,26],[10,20],[28,26],[53,28],[80,20],[105,10],[130,3],[165,0]],
  [[0,0],[115,0]],
  [[0,58],[2,26],[6,12],[14,5],[28,18],[45,22],[60,12],[80,5],[117,0]],
];
const ptgs1 = [
  [[0,0],[157,0]],[[0,0],[138,0]],[[0,0],[91,0]],[[0,0],[86,0]],[[0,0],[114,0]],[[0,0],[124,0]],[[0,0],[142,0]],[[0,0],[96,0]],
  [[0,60],[3,36],[10,18],[25,6],[42,18],[65,33],[90,22],[115,10],[140,3],[164,0]],
];
const violinRows = [cyp1b1,mgst3,ldha,hyal2,mgst2,gsto1,ptgs1];

// 1.14 makes up for what the smoothed outline loses at the bulge
const violinOutline = (profile: number[][], col: number, floor: number) => {
  const k = profile.length > 2 ? 1.14/131 : 0;
  const left = profile.map(([h,w]) => ({ x:col-w*k, y:floor+h/166 }));
  const right = [...profile].reverse().map(([h,w]) => ({ x:col+w*k, y:floor+h/166 }));
  // tip and tail ends are repeated so a smoothed outline still reaches them
  return [left[0],...left,left[left.length-1],...right,right[right.length-1]];
};

const ViolinPanel = () => (
  <ScatterChart style={{position:"absolute",left:1390,top:790}} width={660} height={824} margin={{top:45.7,right:98,bottom:0,left:54.7}}>
    <XAxis type="number" dataKey="x" height={167.1} domain={[-0.604,8.596]} ticks={[0,1,2,3,4,5,6,7,8]} interval={0} allowDataOverflow axisLine={{stroke:"#2a2424",strokeWidth:2.5}} tickSize={5} tickLine={{stroke:"#2a2424",strokeWidth:2}}
      tick={(p: any) => {
        const tx = p.x+6, ty = p.y+8;
        return <text x={tx} y={ty} transform={`rotate(-45 ${tx} ${ty})`} textAnchor="end" dominantBaseline="hanging" fontSize={24} fill="#1c1c1c" fontFamily={FONT}>{violinCells[p.payload.value]}</text>;
      }} />
    <YAxis type="number" dataKey="y" domain={[0,7]} hide />
    {[1,2,3,4,5,6].map((v) => <ReferenceLine key={v} y={v} stroke="#2a2424" strokeWidth={2} />)}
    <ReferenceLine y={7} stroke="#444" strokeWidth={1} />
    <ReferenceLine x={8.596} stroke="#444" strokeWidth={1} />
    <ReferenceLine x={-0.604} stroke="#2a2424" strokeWidth={2.5} />
    {violinRows.map((row,r) => row.map((profile,c) => (
      <Scatter key={`${r}-${c}`} data={violinOutline(profile,c,6-r)} shape={NoDot}
        line={{stroke:"#2a2424",strokeWidth:2.4,fill:violinColors[r]}} lineType="joint"
        lineJointType={profile.length > 2 ? "basisClosed" : "linearClosed"} isAnimationActive={false} />
    )))}
  </ScatterChart>
);

// ---------- overlay text and legends ----------
const T = ({ x, y, s, size=14, anchor="start", rot, weight, family=FONT, fill="#1c1c1c" }: any) => (
  <text x={x} y={y} fontSize={size} textAnchor={anchor} fontWeight={weight} fontFamily={family} fill={fill} dominantBaseline="central"
    transform={rot !== undefined ? `rotate(${rot} ${x} ${y})` : undefined}>{s}</text>
);

const panelLetters = [["A",21,24],["B",1266,24],["C",22,824],["D",771,806],["E",771,1216],["F",1413,808]] as [string,number,number][];
const sizeLegend = [[2000,57],[4000,94],[6000,138]];
const sizeRx = [15.8,19.8,23];
const sizeRy = [13,16.8,19.4];
const propLegend = [["0.00",216.4,0.25],["0.25",236.6,0.6],["0.50",256.7,0.8],["0.75",276.3,0.95],["1.00",296.5,1]] as [string,number,number][];
const resLegendY = [620,600,580,560,540,520,500,480,460,440,420,400,380,360];
const countLegend = [[5000,689],[4000,706],[3000,723],[2000,740],[1000,758]];

const CX = 1650, CY = 405;
const polar = (deg: number, r: number) => [CX+r*Math.sin(deg*Math.PI/180), CY-r*Math.cos(deg*Math.PI/180)];
const tangent = (deg: number) => { const d = ((deg%360)+360)%360; return d>90 && d<270 ? d-180 : d; };
const trackTicks = [0,0.9,1.8,2.7,3.6];

const Overlay = () => (
  <svg width={2050} height={1614} style={{position:"absolute",left:0,top:0,pointerEvents:"none"}}>
    <defs>
      <linearGradient id="countBar" x1="0" y1="1" x2="0" y2="0">
        {["#3e2648","#46387f","#3b6a8f","#2c8c8a","#55b568","#c6db3c","#f2e64c"].map((c,i) => <stop key={i} offset={i/6} stopColor={c} />)}
      </linearGradient>
    </defs>
    {panelLetters.map(([s,x,y]) => <T key={s} x={x} y={y} s={s} size={43} weight="bold" anchor="middle" fill="#000" />)}

    <T x={382} y={793} s="res=1.1" size={27} weight="bold" anchor="middle" family='"Liberation Serif", serif' fill="#111" />
    <T x={1113} y={28} s="size" size={13.5} />
    {sizeLegend.map(([v,y],i) => (
      <g key={v}>
        <ellipse cx={1141.5} cy={y} rx={sizeRx[i]} ry={sizeRy[i]} fill="#111" />
        <T x={1178} y={y} s={v} size={12.5} />
      </g>
    ))}
    <T x={1113} y={194} s="in_prop" size={13.5} />
    {propLegend.map(([s,y,o]) => (
      <g key={s}>
        <path d={`M1116 ${y}H1132M1127 ${y-5}L1135 ${y}L1127 ${y+5}`} stroke="#111" strokeOpacity={o} strokeWidth={2.6} fill="none" />
        <T x={1144} y={y} s={s} size={12.5} />
      </g>
    ))}
    <T x={1113} y={338} s="RNA_snn_res." size={13.5} />
    {resLegendY.map((y,i) => (
      <g key={y}>
        <circle cx={1125} cy={y} r={3.6} fill={resColors[i]} />
        <T x={1144} y={y} s={resLabels[i]} size={12.5} />
      </g>
    ))}
    <T x={1113} y={662} s="count" size={13.5} />
    <rect x={1113} y={675} width={24} height={98} fill="url(#countBar)" />
    {countLegend.map(([v,y]) => <T key={v} x={1144} y={y} s={v} size={12.5} />)}

    {trackNames.map((name,i) => {
      const start = trackStarts[i], span = trackSpans[i];
      const minor: number[] = [];
      for (let t = 0; t*DEG_PER_UNIT <= span; t += 0.225) minor.push(t);
      const [lx,ly] = polar(trackLabelAngles[i],390);
      return (
        <g key={name}>
          {minor.map((t,k) => {
            const a = start+t*DEG_PER_UNIT, big = k%4===0;
            const [x1,y1] = polar(a,368), [x2,y2] = polar(a,big?375:372);
            return <line key={k} x1={x1} y1={y1} x2={x2} y2={y2} stroke="#222" strokeWidth={1} />;
          })}
          {trackTicks.filter((t) => t <= trackMaxTick[i]).map((t) => {
            const a = start+t*DEG_PER_UNIT;
            const [x,y] = polar(a,381);
            return <T key={t} x={x} y={y} s={String(t)} size={9} anchor="middle" rot={tangent(a)} fill="#222" />;
          })}
          <T x={lx} y={ly} s={name} size={12} anchor="middle" rot={tangent(trackLabelAngles[i])} fill="#222" />
        </g>
      );
    })}
    <T x={2017} y={367} s="Cluster" size={9} anchor="middle" rot={90} />
    <T x={2007} y={367} s="orig.ident" size={9} anchor="middle" rot={90} />
    <g>
      {embedLabels.map(([s,zx,zy]) => <T key={s} x={1230+zx*820/1568} y={zy*810/1568} s={s} size={24} anchor="middle" fill="#111" />)}
    </g>

    {legendRow1.map(([s,c,kx,tx]) => (
      <g key={s}><rect x={kx} y={857} width={28} height={17} fill={c} /><T x={tx} y={866} s={s} size={18.5} fill="#222" /></g>
    ))}
    {legendRow2.map(([s,c,kx,tx]) => (
      <g key={s}><rect x={kx} y={875} width={28} height={17} fill={c} /><T x={tx} y={884} s={s} size={18.5} fill="#222" /></g>
    ))}
    <rect x={100} y={901} width={640} height={639} fill="none" stroke="#453f3f" strokeWidth={2.5} />
    <T x={35} y={1220} s="Percent" size={24} anchor="middle" rot={-90} fill="#111" />
    <T x={420} y={1590} s="Patient" size={23.5} anchor="middle" fill="#111" />

    <rect x={817.6} y={796.3} width={551.4} height={320} fill="none" stroke="#333" strokeWidth={1.8} />
    <T x={775.7} y={955.5} s="Number of OS_markers" size={16.2} anchor="middle" rot={-90} />
    <T x={1093} y={1192.5} s="Cell Cluster" size={17.5} anchor="middle" />
    <rect x={822.6} y={1219.3} width={546.4} height={307.4} fill="none" stroke="#333" strokeWidth={1.8} />
    <T x={781.5} y={1373.3} s="Number of Metabolic_markers" size={15.5} anchor="middle" rot={-90} />
    <T x={1096} y={1600.8} s="Cell Cluster" size={17.5} anchor="middle" />

    {violinGenes.map((g,i) => <T key={g} x={2001} y={879.3+87.3*i} s={g} size={21} weight="bold" anchor="middle" fill="#111" />)}
  </svg>
);

const App = () => (
  <div style={{position:"absolute",left:0,top:0,width:2050,height:1614,background:"#fff",overflow:"hidden",fontFamily:FONT}}>
    <div style={{position:"absolute",left:0,top:0}}><ClusterTree /></div>
    <div style={{position:"absolute",left:1230,top:0}}><CircularTracks /></div>
    <div style={{position:"absolute",left:1230,top:0}}><Embedding /></div>
    <div style={{position:"absolute",left:0,top:800}}><CompositionChart /></div>
    <RankBars names={osNames} values={osValues} left={750} top={790} width={630} height={425} plotLeft={817.6} plotTop={796.3} plotRight={1369} plotBottom={1116.3}
      domain={[-2.14,46]} ticks={[0,10,20,30,40]} minor={[5,15,25,35,45]} pad={5.5} barSize={54} labelDy={34} angle={-22} />
    <RankBars names={metaNames} values={metaValues} left={750} top={1212} width={630} height={402} plotLeft={822.6} plotTop={1219.3} plotRight={1369} plotBottom={1526.7}
      domain={[-0.888,19.95]} ticks={[0,5,10,15]} minor={[2.5,7.5,12.5,17.5]} pad={5.7} barSize={54} labelDy={32} angle={-20} />
    <ViolinPanel />
    <Overlay />
  </div>
);

export default App;
